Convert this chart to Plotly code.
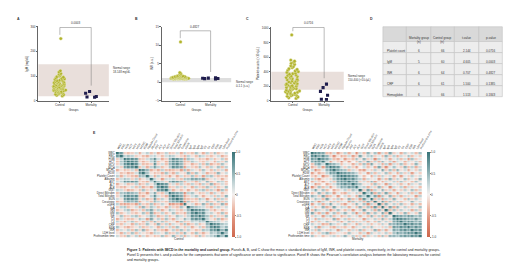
import plotly.graph_objects as go

W, H = 520, 272

# ---------------- data ----------------
GROUPS = ["Control", "Mortality"]

IGM_CTRL = [252, 121, 116, 110, 107, 103, 100, 97, 95, 92, 90, 88, 86, 85, 83, 81, 80, 78, 77, 75,
            74, 73, 71, 70, 69, 68, 66, 65, 64, 63, 62, 61, 60, 59, 58, 57, 56, 55, 54, 53, 52, 51,
            50, 49, 48, 47, 46, 45, 44, 43, 42, 41, 40, 38, 37, 36, 34, 33, 31, 30, 28, 26, 24, 22, 19]
IGM_MORT = [37, 30, 15, 17, 14]
IGM_NORMAL = [18, 148]

INR_CTRL = [10.9, 2.6, 2.3, 2.1, 1.9, 1.8, 1.7, 1.65, 1.6, 1.55, 1.5, 1.5, 1.45, 1.45, 1.4, 1.4, 1.38,
            1.35, 1.33, 1.3, 1.3, 1.28, 1.27, 1.25, 1.25, 1.23, 1.22, 1.2, 1.2, 1.19, 1.18, 1.17, 1.16,
            1.15, 1.15, 1.14, 1.13, 1.12, 1.12, 1.11, 1.1, 1.1, 1.09, 1.08, 1.07, 1.06, 1.05, 1.05, 1.04,
            1.03, 1.02, 1.01, 1.0, 1.0, 0.99, 0.98, 0.97, 0.96, 0.95, 0.94, 0.93, 0.92, 0.9, 0.88]
INR_MORT = [1.0, 1.15, 1.05, 0.95, 0.9, 1.1]
INR_NORMAL = [0.0, 1.1]

PLT_CTRL = [907, 560, 545, 530, 515, 500, 480, 470, 455, 440, 430, 420, 410, 400, 390, 380, 372, 365,
            355, 348, 340, 332, 325, 318, 310, 302, 295, 288, 280, 272, 265, 258, 250, 243, 236, 230,
            224, 218, 212, 206, 200, 194, 188, 182, 176, 170, 164, 158, 152, 146, 140, 134, 128, 122,
            116, 110, 104, 98, 92, 86, 80, 74, 68, 60, 50, 40, 30]
PLT_MORT = [228, 180, 128, 75, 18, 15]
PLT_NORMAL = [150, 400]

P_VALUES = ["0.0003", "0.4827", "0.0716"]

TABLE_HEAD = ["", "Mortality group<br>(n)", "Control group<br>(n)", "t-value", "p-value"]
TABLE_ROWS = ["Platelet count", "IgM", "INR", "CRP", "Hemoglobin"]
TABLE_MORT_N = [6, 5, 6, 6, 6]
TABLE_CTRL_N = [66, 60, 64, 61, 66]
TABLE_T = ["2.144", "4.605", "0.707", "1.500", "1.513"]
TABLE_P = ["0.0716", "0.0003", "0.4827", "0.1385", "0.1843"]

LABS = ["WBC", "RBC", "HGB", "HCT", "MCV", "MCH", "MCHC", "RDW", "Platelet Count", "Albumin",
        "AST", "ALT", "ALP", "GGT", "Direct Bilirubin", "Total Bilirubin", "BUN", "Creatinine",
        "eGFR", "IgA", "IgG", "IgM", "IgE", "C3", "C4", "CRP", "ESR", "INR", "LDH level",
        "Prothrombin time"]

# Pearson correlation (x10), lower-triangle rows
CTRL_TRI = [
    [10],
    [7, 10],
    [-2, 3, 10],
    [-3, 4, 8, 10],
    [-2, 3, 8, 9, 10],
    [2, -2, 7, 8, 8, 10],
    [-4, -1, -3, -2, 2, -3, 10],
    [1, -3, -2, -4, -3, 2, 8, 10],
    [3, -4, 2, -2, -3, -4, 5, 4, 10],
    [-3, 2, 4, 3, -2, 3, -4, -1, 2, 10],
    [2, 3, 8, 7, 8, 7, -2, -3, -4, 3, 10],
    [-4, -1, 2, -3, -2, 3, -4, -2, 3, -1, 4, 10],
    [-2, -3, -4, -1, 2, -3, 3, -4, -2, -5, 3, 8, 10],
    [3, 2, -2, -4, -3, -1, -3, 4, -2, 2, -2, 7, 8, 10],
    [-3, 4, 5, 6, 5, 4, -4, -2, -5, 2, 6, -2, -3, 3, 10],
    [-2, 3, 8, 8, 7, 8, -3, -4, -1, 3, 8, 2, -2, -4, 7, 10],
    [2, -1, 7, 8, 8, 7, -2, 3, -4, -2, 7, -3, 3, -1, 6, 8, 10],
    [-4, -2, 5, 6, 5, 6, -5, -1, 2, -3, 5, 3, -2, -3, 5, 6, 7, 10],
    [3, -4, -5, -4, -3, -5, 4, -2, -3, 4, -4, -2, 3, -1, -6, -5, -4, -7, 10],
    [-2, 3, 4, -3, -1, 2, -4, 5, -2, 4, 2, -3, -1, -4, 3, -2, -3, 4, -1, 10],
    [-3, -1, 3, 4, -4, -2, 2, -3, 4, 6, -2, 3, -4, -1, 4, 2, -2, -3, 2, 5, 10],
    [4, -3, -1, 2, -2, -3, -1, 4, -3, 6, -4, -2, 3, -3, -1, 4, -3, -2, -4, 4, 8, 10],
    [-1, 4, -3, -2, 3, 4, -3, -1, 2, 5, 3, -4, -2, 3, -3, -1, 4, 2, -2, 3, 8, 7, 10],
    [-4, 2, -2, -3, -3, -1, 4, 2, -5, 6, -1, 3, -3, 4, -2, -4, 2, -1, 5, 2, 7, 8, 7, 10],
    [3, -2, -4, 2, 4, -3, -1, -4, 3, -3, 5, -2, 4, -3, 2, -1, -5, 4, -3, -2, 3, 2, 4, 3, 10],
    [-2, -3, 2, -1, -4, 3, -3, -2, 4, -1, -3, 5, -2, 3, -4, 2, -1, -3, 4, -4, -2, 3, -3, -1, 5, 10],
    [4, -1, -3, -4, -2, -1, 3, -3, -2, 2, -1, -4, 3, -2, 3, -3, 4, -1, -3, 2, -4, -1, 3, -3, 4, 8, 10],
    [-3, 2, -1, 3, -3, 4, -2, 5, -3, -1, 4, -2, -3, -5, -1, 3, -3, 4, -2, 3, -1, -3, -2, 4, 3, 7, 8, 10],
    [-1, -4, 3, -2, 4, -3, 2, -1, -2, -4, 3, 2, -1, 4, -3, -2, 3, -3, 5, -1, -3, 4, -2, -4, -1, 4, 3, 5, 10],
    [2, -2, -3, 4, -1, 3, -4, 2, -3, -1, -3, -2, 4, -3, -1, 5, -2, 3, -4, 2, -1, -3, 4, -2, 2, 3, 5, 9, 4, 10],
]

MORT_TRI = [
    [10],
    [8, 10],
    [7, 6, 10],
    [6, 8, 7, 10],
    [-3, 5, 6, 2, 10],
    [-4, -2, 3, -5, 6, 10],
    [2, -6, -3, 1, 5, 8, 10],
    [-5, -1, -4, -2, 3, 7, 6, 10],
    [-2, -4, 1, -6, -3, 2, 5, 8, 10],
    [3, -3, -5, -1, 1, -2, 4, 7, 9, 10],
    [-4, 2, -2, -5, -1, 3, -3, 6, 8, 7, 10],
    [1, -5, -3, 0, -4, -2, 2, 5, 7, 8, 6, 10],
    [-6, -2, 4, -3, 2, -5, -1, 3, 6, 5, 7, 6, 10],
    [2, 6, -1, 4, -3, 0, -4, -2, 1, 3, -2, 4, 2, 10],
    [-3, -1, 5, -2, 4, 2, -5, 1, -3, -4, 2, -1, 3, -2, 10],
    [5, 3, -2, 6, -4, -3, 1, -5, 0, 2, -3, 1, -4, 6, 3, 10],
    [-1, 4, 2, -3, 6, 1, -2, 3, -4, -1, 5, -3, 2, -5, 7, 2, 10],
    [4, -2, -6, 3, -1, -4, 3, -3, 2, 1, -5, 4, -2, 3, -4, 6, -3, 10],
    [-5, 1, 3, -4, 2, 6, -1, 2, -3, -5, 1, -2, 5, -1, 4, -6, 3, -2, 10],
    [2, -3, -1, 5, -4, -2, 6, -1, 3, 2, -4, 1, -3, 5, -2, 4, -5, 7, -3, 10],
    [-3, 5, 2, -1, 3, -6, -2, 4, -1, -3, 2, -5, 1, -2, 6, -1, 3, -4, 5, -2, 10],
    [6, -2, -4, 3, -5, 1, 4, -3, 2, 5, -1, 3, -6, 2, -3, 5, -2, 4, -1, 6, -3, 10],
    [-2, 3, 1, -5, 2, 4, -3, 1, -4, -2, 3, -1, 2, -4, 1, -3, 5, -2, 3, -4, 4, -1, 10],
    [1, -4, 3, 2, -2, -1, 5, -4, 1, 3, -3, 2, -1, 1, -5, 2, -1, 3, -2, 5, -2, 3, 7, 10],
    [-4, 2, -3, 1, 4, -2, -1, 3, -5, -1, 4, -3, 3, -2, 2, -4, 1, -3, 4, -1, 3, -2, 6, 8, 10],
    [3, -1, 2, -4, -3, 5, 2, -2, 1, 4, -2, 1, -4, 3, -1, 2, -3, 1, -2, 3, -1, 5, 5, 7, 6, 10],
    [-1, 4, -5, 2, 1, -3, -4, 2, -2, -3, 1, -4, 2, -1, 3, -2, 4, -1, 1, -2, 2, -3, 7, 6, 8, 7, 10],
    [2, -3, 4, -1, -2, 3, 1, -5, 3, 1, -3, 2, -2, 4, -3, 1, -2, 5, -4, 2, -4, 1, 6, 5, 7, 8, 6, 10],
    [-3, 1, -2, 3, 5, -4, -2, 1, -1, -2, 4, -1, 1, -3, 2, -5, 3, -1, 2, -1, 3, -2, 4, 7, 5, 6, 8, 7, 10],
    [4, -2, 1, -3, -1, 2, 3, -2, 2, 5, -1, 3, -3, 2, -4, 3, -1, 2, -3, 4, -2, 5, 5, 4, 6, 7, 6, 8, 7, 10],
]

CAPTION = [
    "<b>Figure 1: Patients with IMCD in the mortality and control group.</b> Panels A, B, and C show the mean \u00b1 "
    "standard deviation of IgM, INR, and platelet counts, respectively, in the control and mortality groups.",
    "Panel D presents the t- and p-values for the components that were of significance or were close to "
    "significance. Panel E shows the Pearson's correlation analysis between the laboratory measures for control",
    "and mortality groups.",
]

# ---------------- helpers ----------------
FONT = "Liberation Sans, Arial, sans-serif"
TXT = "#333333"
CTRL_COL = "#b2b32c"
MORT_COL = "#1f1d4d"


def fx(p):
    return p / W


def fy(p):
    return 1 - p / H


def full(tri):
    n = len(tri)
    z = [[0.0] * n for _ in range(n)]
    for i, row in enumerate(tri):
        for j, v in enumerate(row):
            z[i][j] = v / 10
            z[j][i] = v / 10
    return z


fig = go.Figure()

panels = [
    ("", IGM_CTRL, IGM_MORT, IGM_NORMAL, "#e9dfdb", (31, 103), 53, 85, [0, 300], [0, 100, 200, 300],
     "IgM (mg/dL)", "Normal range<br>18-148 mg/dL", 0.44, 0.42),
    ("2", INR_CTRL, INR_MORT, INR_NORMAL, "#dedede", (157, 228), 176, 207, [-5, 15], [-5, 0, 5, 10, 15],
     "INR (s.u.)", "Normal range<br>0-1.1 (s.u.)", 0.62, 0.62),
    ("3", PLT_CTRL, PLT_MORT, PLT_NORMAL, "#e9dfdb", (269, 343), 291, 323, [0, 1020],
     [0, 200, 400, 600, 800, 1000], "Platelet counts (\u00d710\u00b3/\u03bcL)",
     "Normal range<br>150-400 (\u00d710\u00b3/\u03bcL)", 0.48, 0.28),
]

shapes = []
annotations = []
layout_axes = {}

for k, (s, ctrl, mort, normal, bandcol, (xl, xr), cpx, mpx, yr, ytk, ytitle, ntext, cw, mw) in enumerate(panels):
    xa = "x" + s
    ya = "y" + s
    unit = mpx - cpx
    r0 = -(cpx - xl) / unit
    r1 = (xr - cpx) / unit
    fig.add_trace(go.Box(
        x0=0, y=ctrl, xaxis=xa, yaxis=ya, boxpoints="all", jitter=1, pointpos=0, width=cw,
        fillcolor="rgba(0,0,0,0)", line=dict(color="rgba(0,0,0,0)", width=0),
        marker=dict(symbol="circle", size=3.3, color=CTRL_COL, line=dict(color="#ecedc4", width=0.4)),
        showlegend=False, hoveron="points"))
    fig.add_trace(go.Box(
        x0=1, y=mort, xaxis=xa, yaxis=ya, boxpoints="all", jitter=1, pointpos=0, width=mw,
        fillcolor="rgba(0,0,0,0)", line=dict(color="rgba(0,0,0,0)", width=0),
        marker=dict(symbol="square", size=3.1, color=MORT_COL, line=dict(width=0)),
        showlegend=False, hoveron="points"))
    layout_axes["xaxis" + s] = dict(
        domain=[fx(xl), fx(xr)], range=[r0, r1], type="linear", anchor=ya,
        tickmode="array", tickvals=[0, 1], ticktext=GROUPS, tickfont=dict(size=3, color=TXT),
        showline=True, linecolor="#666", linewidth=0.5, ticks="outside", ticklen=1.5, tickwidth=0.5,
        tickcolor="#666", showgrid=False, zeroline=False,
        title=dict(text="Groups", font=dict(size=3, color=TXT), standoff=2))
    layout_axes["yaxis" + s] = dict(
        domain=[fy(92), fy(17)], range=yr, anchor=xa, tickmode="array", tickvals=ytk,
        tickfont=dict(size=3, color=TXT), showline=True, linecolor="#666", linewidth=0.5,
        ticks="outside", ticklen=1.5, tickwidth=0.5, tickcolor="#666", showgrid=False, zeroline=False,
        title=dict(text=ytitle, font=dict(size=3, color=TXT), standoff=2))
    shapes.append(dict(type="rect", xref=xa + " domain", yref=ya, x0=0, x1=1, y0=normal[0], y1=normal[1],
                       fillcolor=bandcol, line=dict(width=0), layer="below"))
    span = yr[1] - yr[0]
    top = max(ctrl) + (0.15 if k != 2 else 0.105) * span
    top = min(top, yr[1] - 0.01 * span)
    lft = max(ctrl) + 0.05 * span
    rgt = max(mort) + 0.08 * span
    shapes.append(dict(type="path", xref=xa, yref=ya,
                       path=f"M 0,{lft} L 0,{top} L 1,{top} L 1,{rgt}",
                       line=dict(color="#777", width=0.5)))
    annotations.append(dict(xref=xa, yref=ya, x=0.5, y=top, text=P_VALUES[k], showarrow=False,
                            yanchor="bottom", yshift=0.3, font=dict(size=3, color=TXT)))
    annotations.append(dict(xref="paper", yref=ya, x=fx(xr + 2.5), y=normal[1], yanchor="top",
                            text=ntext, showarrow=False, xanchor="left", align="left",
                            font=dict(size=2.8, color=TXT)))

# ---------------- heatmaps ----------------
CS = [[0.0, "#cf684d"], [0.2, "#df8f78"], [0.35, "#eebfae"], [0.5, "#f3f0ef"],
      [0.65, "#bdd1d3"], [0.8, "#7ea6aa"], [1.0, "#397478"]]
idx = list(range(len(LABS)))
heat = [("4", CTRL_TRI, (110, 225), 229, "Control"), ("5", MORT_TRI, (309, 423), 428, "Mortality")]
for s, tri, (xl, xr), cbx, name in heat:
    fig.add_trace(go.Heatmap(
        z=full(tri), x=idx, y=idx, xaxis="x" + s, yaxis="y" + s, colorscale=CS, zmin=-1, zmax=1,
        xgap=0.5, ygap=0.5,
        colorbar=dict(x=fx(cbx), xanchor="left", y=fy(187.5), yanchor="middle", len=86 / H,
                      thickness=3, xpad=0, ypad=0, outlinewidth=0, tickvals=[-1, -0.5, 0, 0.5, 1],
                      ticktext=["-1.0", "-0.5", "0", "0.5", "1.0"], tickfont=dict(size=3, color=TXT),
                      ticks="outside", ticklen=1, tickwidth=0.4, tickcolor="#888")))
    layout_axes["xaxis" + s] = dict(
        domain=[fx(xl), fx(xr)], range=[-0.5, len(LABS) - 0.5], anchor="y" + s, side="top",
        tickmode="array", tickvals=idx, ticktext=LABS, tickangle=-60, tickfont=dict(size=2.8, color=TXT),
        showgrid=False, zeroline=False, showline=False, ticks="")
    layout_axes["yaxis" + s] = dict(
        domain=[fy(231), fy(144)], range=[len(LABS) - 0.5, -0.5], anchor="x" + s,
        tickmode="array", tickvals=idx, ticktext=LABS, tickfont=dict(size=2.8, color=TXT),
        showgrid=False, zeroline=False, showline=False, ticks="")
    annotations.append(dict(xref="paper", yref="paper", x=fx((xl + xr) / 2), y=fy(236), text=name,
                            showarrow=False, font=dict(size=3, color=TXT)))

# ---------------- table (panel D) ----------------
col_edges = [383, 407, 432, 456, 481, 505]
row_edges = [17, 32, 43.2, 54.4, 65.6, 76.8, 88]
columns = [TABLE_ROWS, TABLE_MORT_N, TABLE_CTRL_N, TABLE_T, TABLE_P]
for c in range(len(col_edges) - 1):
    for r in range(len(row_edges) - 1):
        shapes.append(dict(type="rect", xref="paper", yref="paper",
                           x0=fx(col_edges[c]), x1=fx(col_edges[c + 1]),
                           y0=fy(row_edges[r + 1]), y1=fy(row_edges[r]),
                           fillcolor="#d9d9d9" if r == 0 else "#ededed",
                           line=dict(color="#c2c2c2", width=0.6)))
        text = TABLE_HEAD[c] if r == 0 else str(columns[c][r - 1])
        left = (c == 0 and r > 0)
        annotations.append(dict(xref="paper", yref="paper",
                                x=fx(col_edges[c] + 2) if left else fx((col_edges[c] + col_edges[c + 1]) / 2),
                                y=fy((row_edges[r] + row_edges[r + 1]) / 2), text=text, showarrow=False,
                                xanchor="left" if left else "center", align="center",
                                font=dict(size=3, color=TXT)))

# ---------------- labels & caption ----------------
for letter, px, py in [("A", 7, 5), ("B", 128, 5), ("C", 245, 5), ("D", 375, 5), ("E", 85, 125)]:
    annotations.append(dict(xref="paper", yref="paper", x=fx(px), y=fy(py), text=f"<b>{letter}</b>",
                            showarrow=False, font=dict(size=3.5, color=TXT)))
for i, line in enumerate(CAPTION):
    annotations.append(dict(xref="paper", yref="paper", x=fx(120), y=fy(244 + 5 * i), text=line,
                            showarrow=False, xanchor="left", yanchor="middle", align="left",
                            font=dict(size=3.45, color="#222")))

fig.update_layout(width=W, height=H, margin=dict(l=0, r=0, t=0, b=0), paper_bgcolor="white",
                  plot_bgcolor="white", font=dict(family=FONT, color=TXT), showlegend=False,
                  shapes=shapes, annotations=annotations, **layout_axes)

fig.write_html("out.html")
